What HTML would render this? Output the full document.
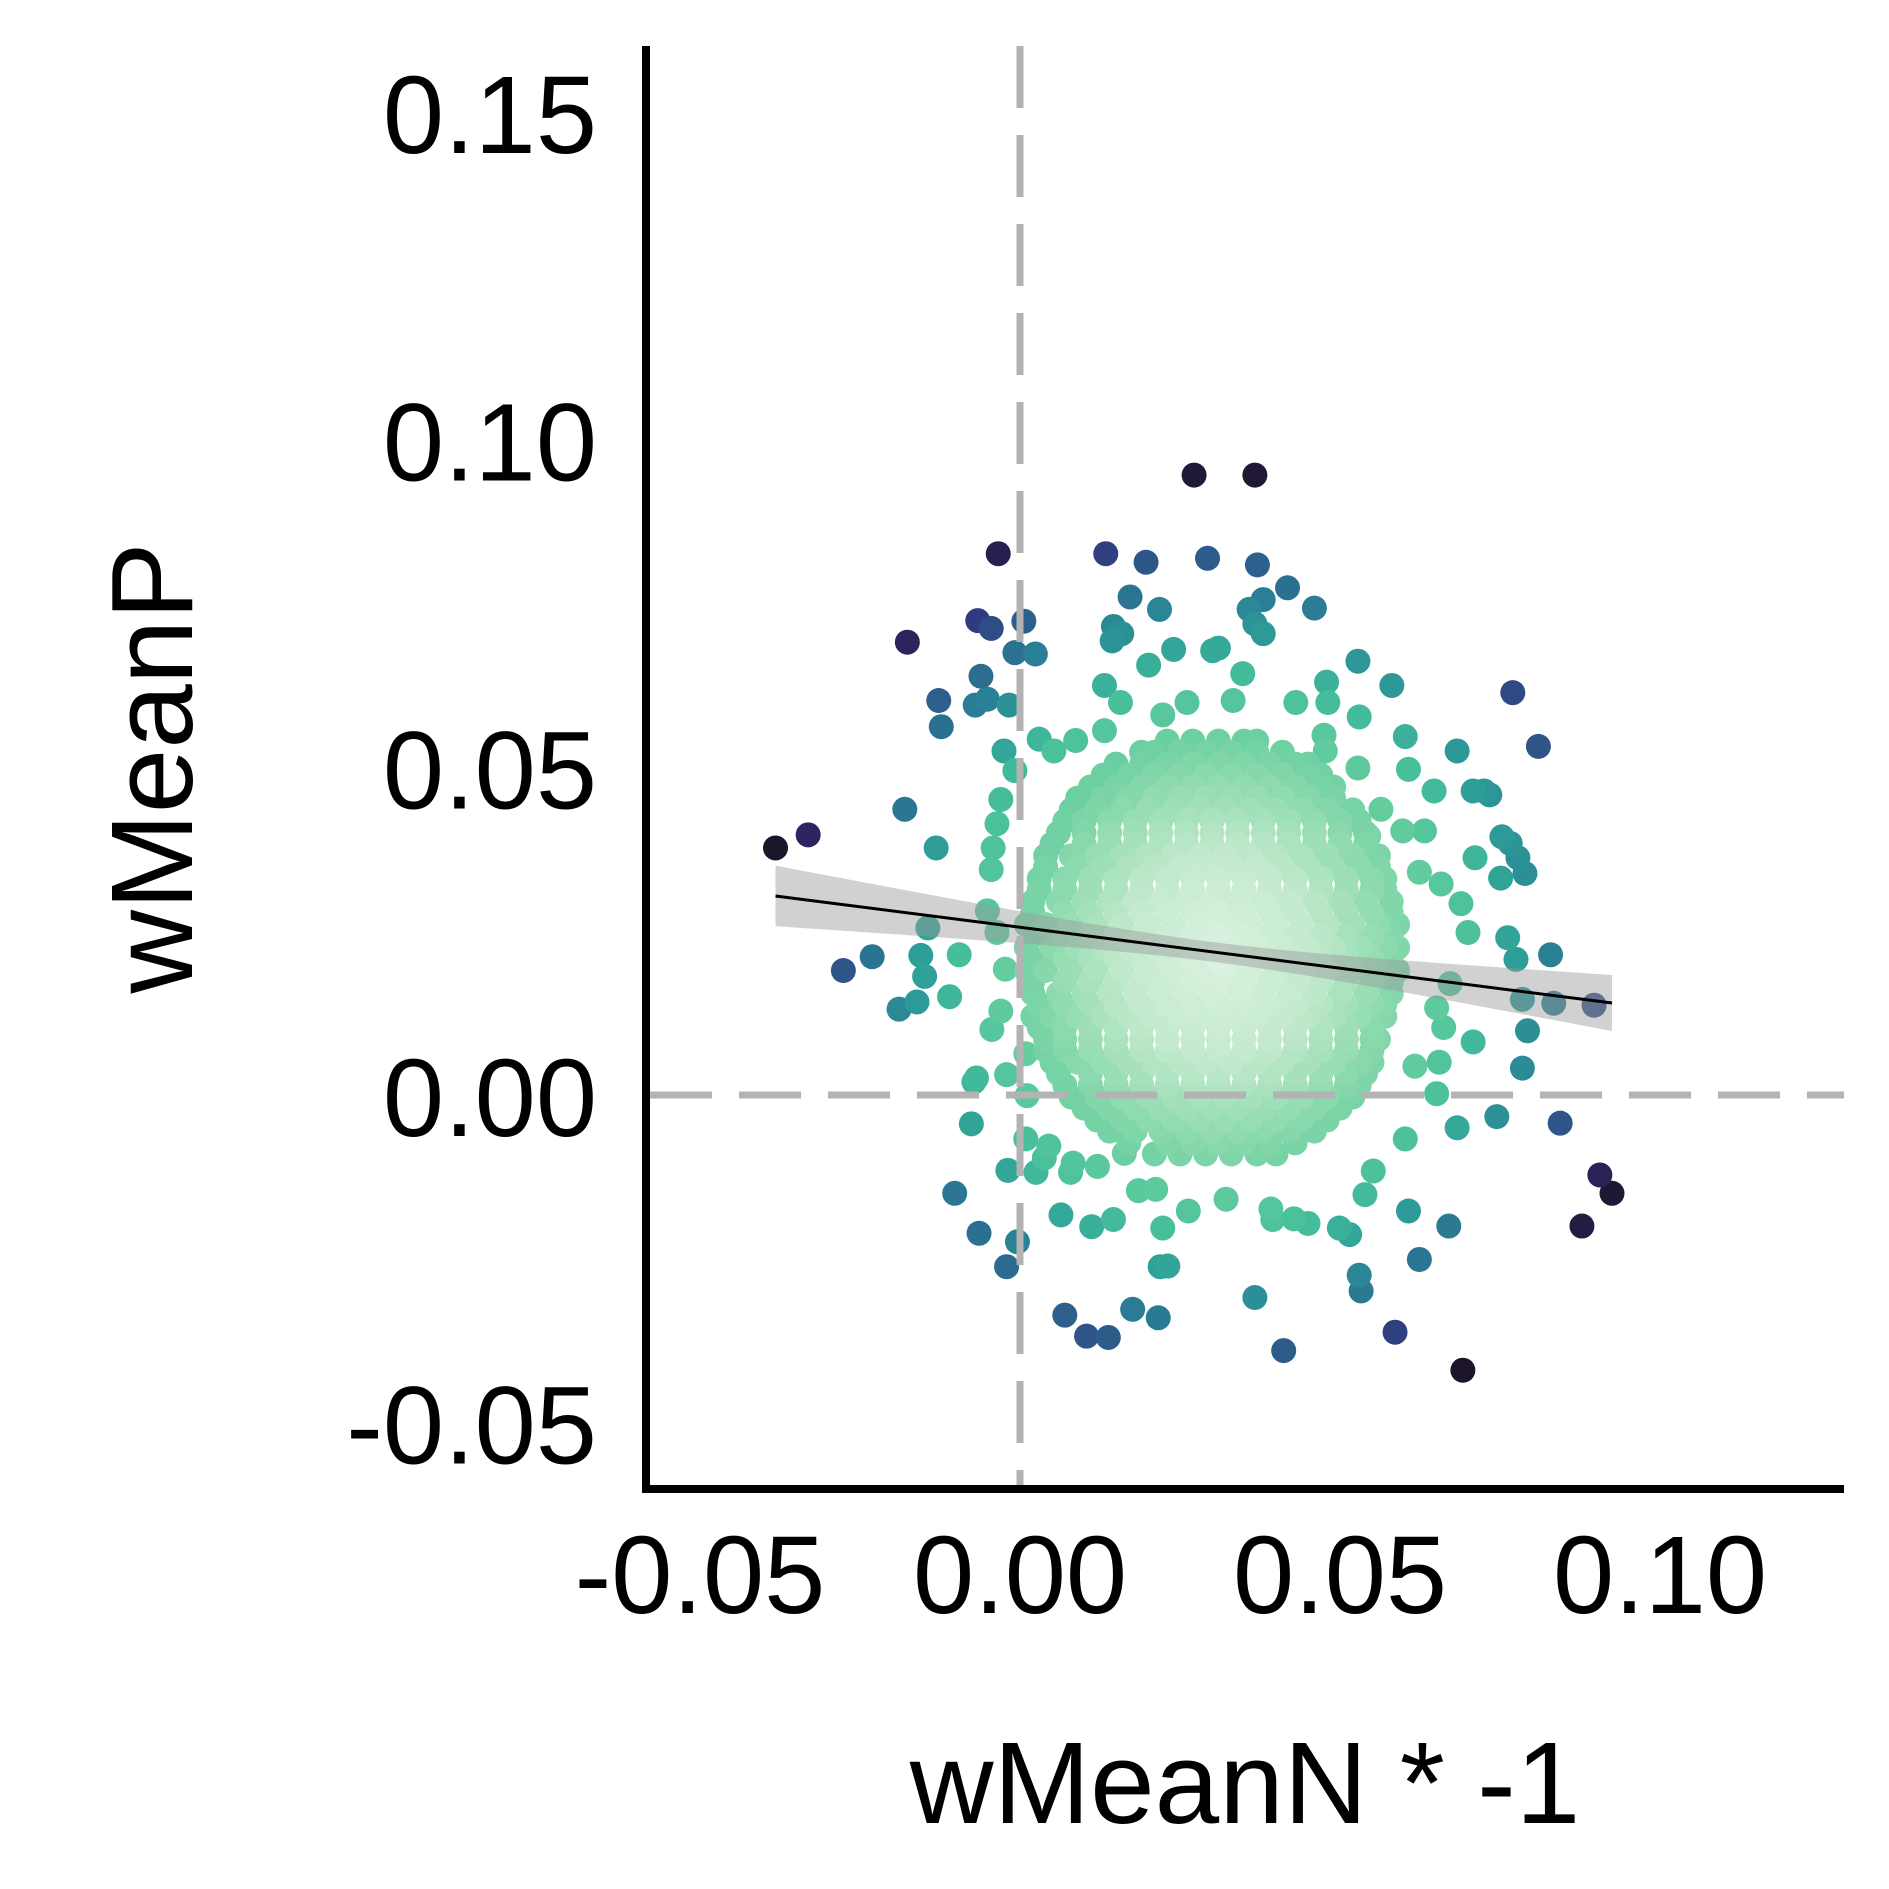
<!DOCTYPE html>
<html><head><meta charset="utf-8"><style>
html,body{margin:0;padding:0;background:#fff;}
svg{display:block;}
text{font-family:"Liberation Sans",Arial,sans-serif;fill:#000;}
</style></head><body>
<svg id="chart" width="1889" height="1889" viewBox="0 0 1889 1889" xmlns="http://www.w3.org/2000/svg">
<g id="points"></g>
<g id="fit"></g>
<g id="refs"></g>
<g id="axes"></g>
</svg>
<script>
// ---- data ----
const xTicks = [-0.05, 0, 0.05, 0.10];
const xTickLabels = ["-0.05", "0.00", "0.05", "0.10"];
const yTicks = [-0.05, 0, 0.05, 0.10, 0.15];
const yTickLabels = ["-0.05", "0.00", "0.05", "0.10", "0.15"];
const outlierX = [-0.0382,-0.0331,0.0272,0.0367,-0.0034,0.0134,0.0197,0.0293,0.0371,0.0418,0.0460,0.0172,0.0218,0.0380,0.0358,0.0367,0.0380,0.0146,0.0159,0.0144,0.0240,0.0301,0.0310,-0.0176,-0.0066,-0.0045,0.0006,-0.0008,0.0024,-0.0061,-0.0051,-0.0070,-0.0017,-0.0127,-0.0123,0.0201,0.0348,0.0528,0.0581,0.0479,0.0770,0.0810,0.0602,0.0683,0.0607,0.0647,0.0708,0.0725,0.0734,-0.0180,-0.0131,0.0753,0.0766,0.0778,0.0789,0.0751,0.0711,0.0762,0.0775,0.0829,0.0785,0.0834,0.0897,0.0793,0.0785,0.0844,0.0745,0.0683,0.0906,0.0925,0.0878,0.0670,0.0624,0.0607,0.0692,0.0586,0.0412,0.0367,0.0530,0.0533,0.0176,0.0216,0.0070,0.0104,0.0138,0.0219,0.0231,-0.0021,-0.0004,-0.0064,-0.0102,-0.0019,-0.0076,-0.0072,-0.0068,-0.0276,-0.0231,-0.0189,-0.0161,-0.0149,-0.0155,-0.0144,-0.0095,-0.0110,-0.0044,-0.0021,0.0064,0.0112,0.0146,0.0395,0.0428,0.0450,0.0499,0.0515,0.0392,0.0322,0.0263,0.0223,0.0025,0.0045,0.0079,0.0083,0.0121,0.0163,0.0185,0.0212,0.0539,0.0552,0.0602,0.0651,0.0617,0.0655,0.0708,0.0662,0.0651,0.0672,0.0700,0.0689,0.0658,0.0624,0.0632,0.0598,0.0545,0.0564,0.0528,0.0477,0.0475,0.0431,0.0481,0.0530,0.0333,0.0261,0.0223,0.0157,0.0132,0.0132,0.0087,0.0053,0.0030,-0.0025,-0.0008,-0.0030,-0.0036,-0.0042,-0.0045,-0.0051,-0.0036,-0.0023,-0.0030,0.0009,0.0011,0.0009,0.0038];
const outlierY = [0.0377,0.0397,0.0946,0.0946,0.0826,0.0826,0.0813,0.0819,0.0809,0.0774,0.0743,0.0760,0.0741,0.0756,0.0741,0.0719,0.0704,0.0715,0.0704,0.0693,0.0680,0.0678,0.0682,0.0691,0.0724,0.0712,0.0723,0.0675,0.0673,0.0639,0.0604,0.0595,0.0595,0.0602,0.0562,0.0656,0.0643,0.0662,0.0625,0.0630,0.0614,0.0532,0.0547,0.0525,0.0497,0.0464,0.0464,0.0464,0.0458,0.0436,0.0377,0.0394,0.0384,0.0362,0.0338,0.0331,0.0362,0.0240,0.0207,0.0214,0.0146,0.0140,0.0137,0.0098,0.0041,-0.0043,-0.0033,-0.0050,-0.0122,-0.0150,-0.0200,-0.0200,-0.0251,-0.0177,-0.0420,-0.0362,-0.0390,-0.0309,-0.0275,-0.0299,-0.0327,-0.0340,-0.0336,-0.0368,-0.0370,-0.0262,-0.0261,-0.0262,-0.0224,-0.0211,-0.0150,-0.0115,-0.0044,0.0020,0.0026,0.0190,0.0211,0.0131,0.0142,0.0181,0.0213,0.0255,0.0214,0.0150,0.0100,0.0031,-0.0183,-0.0201,-0.0190,-0.0190,-0.0189,-0.0196,-0.0203,-0.0213,-0.0174,-0.0159,-0.0177,-0.0203,-0.0118,-0.0078,-0.0118,-0.0104,-0.0109,-0.0089,-0.0146,-0.0144,-0.0152,-0.0116,-0.0067,0.0002,0.0044,0.0050,0.0081,0.0103,0.0133,0.0170,0.0248,0.0292,0.0322,0.0340,0.0403,0.0403,0.0395,0.0436,0.0499,0.0525,0.0549,0.0599,0.0599,0.0577,0.0602,0.0599,0.0580,0.0599,0.0625,0.0556,0.0541,0.0525,0.0543,0.0525,0.0495,0.0451,0.0414,0.0377,0.0344,0.0281,0.0248,0.0192,0.0128,0.0063,-0.0001,-0.0067,-0.0096];
const clusterRowY = [-0.009,-0.0055,-0.002,0.0015,0.005,0.0085,0.012,0.0155,0.019,0.0225,0.026,0.0295,0.033,0.0365,0.040,0.0435,0.047,0.0505,0.054,
 -0.0073,-0.0038,-0.0003,0.0033,0.0068,0.0103,0.0138,0.0173,0.0208,0.0243,0.0278,0.0313,0.0348,0.0383,0.0418,0.0453,0.0488,0.0523];
const clusterRowX = [
 [0.021,0.025,0.029,0.033,0.037,0.040],
 [0.014,0.018,0.022,0.026,0.030,0.034,0.038,0.042,0.046],
 [0.010,0.014,0.018,0.022,0.026,0.030,0.034,0.038,0.042,0.046,0.050],
 [0.007,0.011,0.015,0.019,0.023,0.027,0.031,0.035,0.039,0.043,0.047,0.051,0.053],
 [0.005,0.009,0.013,0.017,0.021,0.025,0.029,0.033,0.037,0.041,0.045,0.049,0.053,0.055],
 [0.004,0.007,0.011,0.015,0.019,0.023,0.027,0.031,0.035,0.039,0.043,0.047,0.051,0.055,0.056],
 [0.002,0.005,0.009,0.013,0.017,0.021,0.025,0.029,0.033,0.037,0.041,0.045,0.049,0.053,0.057],
 [0.002,0.006,0.010,0.014,0.018,0.022,0.026,0.030,0.034,0.038,0.042,0.046,0.050,0.054,0.058],
 [0.001,0.004,0.008,0.012,0.016,0.020,0.024,0.028,0.032,0.036,0.040,0.044,0.048,0.052,0.056,0.059],
 [0.001,0.005,0.009,0.013,0.017,0.021,0.025,0.029,0.033,0.037,0.041,0.045,0.049,0.053,0.057,0.059],
 [0.001,0.004,0.008,0.012,0.016,0.020,0.024,0.028,0.032,0.036,0.040,0.044,0.048,0.052,0.056,0.059],
 [0.002,0.006,0.010,0.014,0.018,0.022,0.026,0.030,0.034,0.038,0.042,0.046,0.050,0.054,0.058],
 [0.003,0.007,0.011,0.015,0.019,0.023,0.027,0.031,0.035,0.039,0.043,0.047,0.051,0.055,0.057],
 [0.004,0.008,0.012,0.016,0.020,0.024,0.028,0.032,0.036,0.040,0.044,0.048,0.052,0.056],
 [0.006,0.010,0.014,0.018,0.022,0.026,0.030,0.034,0.038,0.042,0.046,0.050,0.054],
 [0.008,0.012,0.016,0.020,0.024,0.028,0.032,0.036,0.040,0.044,0.048,0.052],
 [0.011,0.015,0.019,0.023,0.027,0.031,0.035,0.039,0.043,0.047,0.049],
 [0.015,0.019,0.023,0.027,0.031,0.035,0.039,0.043,0.045],
 [0.023,0.027,0.031,0.035,0.037],
 [0.017,0.023,0.027,0.031,0.035,0.039,0.043],
 [0.012,0.016,0.020,0.024,0.028,0.032,0.036,0.040,0.044,0.048],
 [0.008,0.012,0.016,0.020,0.024,0.028,0.032,0.036,0.040,0.044,0.048,0.052],
 [0.006,0.011,0.015,0.019,0.023,0.027,0.031,0.035,0.039,0.043,0.047,0.051,0.054],
 [0.004,0.007,0.011,0.015,0.019,0.023,0.027,0.031,0.035,0.039,0.043,0.047,0.051,0.055],
 [0.003,0.007,0.011,0.015,0.019,0.023,0.027,0.031,0.035,0.039,0.043,0.047,0.051,0.055],
 [0.003,0.007,0.011,0.015,0.019,0.023,0.027,0.031,0.035,0.039,0.043,0.047,0.051,0.055,0.057],
 [0.002,0.007,0.011,0.015,0.019,0.023,0.027,0.031,0.035,0.039,0.043,0.047,0.051,0.055,0.058],
 [0.002,0.007,0.011,0.015,0.019,0.023,0.027,0.031,0.035,0.039,0.043,0.047,0.051,0.055,0.058],
 [0.002,0.007,0.011,0.015,0.019,0.023,0.027,0.031,0.035,0.039,0.043,0.047,0.051,0.055,0.058],
 [0.002,0.007,0.011,0.015,0.019,0.023,0.027,0.031,0.035,0.039,0.043,0.047,0.051,0.055,0.058],
 [0.003,0.007,0.011,0.015,0.019,0.023,0.027,0.031,0.035,0.039,0.043,0.047,0.051,0.055,0.057],
 [0.004,0.009,0.013,0.017,0.021,0.025,0.029,0.033,0.037,0.041,0.045,0.049,0.053,0.056],
 [0.005,0.010,0.014,0.018,0.022,0.026,0.030,0.034,0.038,0.042,0.046,0.050,0.054],
 [0.007,0.010,0.014,0.018,0.022,0.026,0.030,0.034,0.038,0.042,0.046,0.050,0.053],
 [0.009,0.013,0.017,0.021,0.025,0.029,0.033,0.037,0.041,0.045,0.049],
 [0.013,0.017,0.021,0.025,0.029,0.033,0.037,0.041,0.045,0.047],
 [0.019,0.021,0.025,0.029,0.033,0.037,0.041]
];
const fitXRange = [-0.0382, 0.0925];
const fitCoef = [0.0256, -0.125];      // intercept, slope
const fitSE = [0.0015, 0.0641, 0.030]; // se at mean, slope-term sd, x mean

// ---- scales ----
const X0 = 1020, XS = 6400, Y0 = 1095, YS = 6553;
const sx = v => X0 + v * XS;
const sy = v => Y0 - v * YS;
const NS = "http://www.w3.org/2000/svg";
function mk(tag, attrs, parent) {
  const e = document.createElementNS(NS, tag);
  for (const k in attrs) e.setAttribute(k, attrs[k]);
  parent.appendChild(e);
  return e;
}
const stops = [[0,[218,242,224]],[0.8,[194,233,205]],[1.3,[150,221,178]],[1.8,[100,205,158]],[2.2,[70,190,155]],[2.5,[46,160,152]],[2.8,[42,130,150]],[3.1,[45,95,140]],[3.35,[48,55,125]],[3.6,[45,35,95]],[3.9,[24,18,28]]];
const dist = (x, y) => Math.hypot((x - 0.031) / 0.0185, (y - 0.021) / 0.0195);
function colorFor(x, y) {
  const d = dist(x, y);
  if (d >= stops[stops.length-1][0]) return "rgb(24,18,28)";
  for (let i = 0; i < stops.length - 1; i++) {
    const a = stops[i], b = stops[i+1];
    if (d <= b[0]) {
      const t = (d - a[0]) / (b[0] - a[0]);
      const c = a[1].map((v, j) => Math.round(v + (b[1][j] - v) * t));
      return "rgb(" + c.join(",") + ")";
    }
  }
}

// ---- points ----
const pts = [];
for (let i = 0; i < outlierX.length; i++) pts.push([outlierX[i], outlierY[i]]);
for (let r = 0; r < clusterRowY.length; r++) for (const x of clusterRowX[r]) pts.push([x, clusterRowY[r]]);
pts.sort((a, b) => dist(b[0], b[1]) - dist(a[0], a[1]));
const gp = document.getElementById("points");
for (const p of pts) {
  const c = mk("circle", {cx: sx(p[0]), cy: sy(p[1]), r: 12.5, fill: colorFor(p[0], p[1])}, gp);
  
  
}

// ---- fit ----
const gf = document.getElementById("fit");
const up = [], lo = [];
for (let k = 0; k <= 40; k++) {
  const x = fitXRange[0] + (fitXRange[1] - fitXRange[0]) * k / 40;
  const yv = fitCoef[0] + fitCoef[1] * x;
  const se = Math.sqrt(fitSE[0] ** 2 + (fitSE[1] * (x - fitSE[2])) ** 2);
  up.push(sx(x) + "," + sy(yv + se));
  lo.unshift(sx(x) + "," + sy(yv - se));
}
const band = mk("polygon", {points: up.concat(lo).join(" "), fill: "#999", "fill-opacity": 0.45}, gf);


const fl = mk("line", {x1: sx(fitXRange[0]), y1: sy(fitCoef[0] + fitCoef[1]*fitXRange[0]), x2: sx(fitXRange[1]), y2: sy(fitCoef[0] + fitCoef[1]*fitXRange[1]), stroke: "#000", "stroke-width": 3}, gf);



// ---- reference lines ----
const gr = document.getElementById("refs");
const hl = mk("line", {x1: 650, y1: sy(0), x2: 1844, y2: sy(0), stroke: "#b3b3b3", "stroke-width": 7, "stroke-dasharray": "62 27"}, gr);


const vl = mk("line", {x1: sx(0), y1: 46, x2: sx(0), y2: 1485, stroke: "#b3b3b3", "stroke-width": 7, "stroke-dasharray": "62 27"}, gr);



// ---- axes ----
const ga = document.getElementById("axes");
const ya = mk("line", {x1: 646, y1: 46, x2: 646, y2: 1493, stroke: "#000", "stroke-width": 8}, ga);


const xa = mk("line", {x1: 642, y1: 1489, x2: 1844, y2: 1489, stroke: "#000", "stroke-width": 8}, ga);


for (let i = 0; i < yTicks.length; i++) {
  const t = mk("text", {x: 597, y: sy(yTicks[i]) + 41, "text-anchor": "end", "font-size": 110}, ga);
  t.textContent = yTickLabels[i];
  
  
}
for (let i = 0; i < xTicks.length; i++) {
  const t = mk("text", {x: sx(xTicks[i]), y: 1613, "text-anchor": "middle", "font-size": 110}, ga);
  t.textContent = xTickLabels[i];
  
  
}
const xt = mk("text", {x: 1245, y: 1823, "text-anchor": "middle", "font-size": 116}, ga);
xt.textContent = "wMeanN * -1";


const yt = mk("text", {x: 0, y: 0, "text-anchor": "middle", "font-size": 116, transform: "translate(192,768) rotate(-90)"}, ga);
yt.textContent = "wMeanP";


</script>
</body></html>
